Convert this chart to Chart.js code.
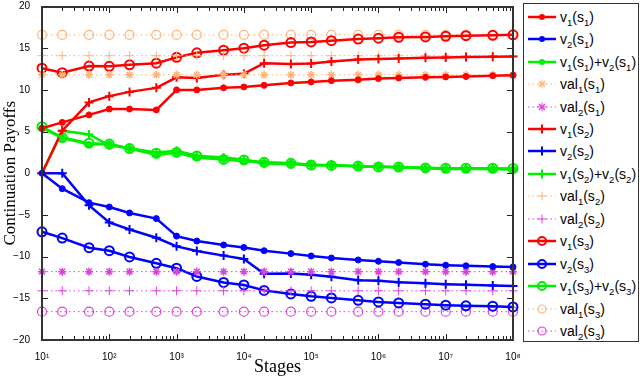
<!DOCTYPE html>
<html>
<head>
<meta charset="utf-8">
<script src="https://cdn.jsdelivr.net/npm/chart.js@4.4.1/dist/chart.umd.min.js"></script>
<style>
  body { margin: 0; background: #fff; }
  #wrap { position: relative; width: 640px; height: 378px; }
  #box { position: absolute; border: 2px solid #333; box-sizing: border-box; pointer-events: none; }
  .tk { position: absolute; background: #222; pointer-events: none; }
  #legend {
    position: absolute; left: 523px; top: 3px; width: 116px; height: 339px;
    border: 1px solid #333; background: #fff; box-sizing: border-box;
    font-family: "Liberation Sans", Arial, sans-serif; font-size: 14px; color: #000;
  }
  .item { position: absolute; left: 0; height: 20px; display: flex; align-items: center; white-space: nowrap; }
  .item svg { margin-left: 4px; margin-right: 3px; }
  .item sub { font-size: 9.5px; vertical-align: -4px; line-height: 0; }
</style>
</head>
<body>
<div id="wrap">
  <canvas id="mycanvas" width="640" height="378"></canvas>
  <div id="box"></div>
  <div id="legend"></div>
</div>
<script>
var stages = [10, 20, 50, 100, 200, 500, 1000, 2000, 5000, 1e4, 2e4, 5e4, 1e5, 2e5, 5e5, 1e6, 2e6, 5e6, 1e7, 2e7, 5e7, 1e8];

var v1s1 = [5.4, 6.1, 7.0, 7.7, 7.7, 7.6, 10.0, 10.0, 10.25, 10.35, 10.55, 10.83, 10.95, 11.1, 11.2, 11.35, 11.43, 11.5, 11.55, 11.6, 11.7, 11.75];
var v2s1 = [0, -1.85, -3.53, -4.05, -4.76, -5.44, -7.54, -8.13, -8.6, -8.9, -9.29, -9.64, -9.92, -10.16, -10.4, -10.56, -10.71, -10.91, -11.03, -11.1, -11.19, -11.23];
var sum1 = [5.4, 4.25, 3.45, 3.5, 2.95, 2.2, 2.45, 1.85, 1.65, 1.45, 1.3, 1.2, 1.03, 0.94, 0.82, 0.78, 0.72, 0.6, 0.52, 0.5, 0.5, 0.48];
var val1s1 = [11.8, 11.8, 11.8, 11.8, 11.8, 11.8, 11.8, 11.8, 11.8, 11.8, 11.8, 11.8, 11.8, 11.8, 11.8, 11.8, 11.8, 11.8, 11.8, 11.8, 11.8, 11.8];
var val2s1 = [-11.8, -11.8, -11.8, -11.8, -11.8, -11.8, -11.8, -11.8, -11.8, -11.8, -11.8, -11.8, -11.8, -11.8, -11.8, -11.8, -11.8, -11.8, -11.8, -11.8, -11.8, -11.8];

var v1s2 = [0, 5.1, 8.5, 9.25, 9.76, 10.24, 11.5, 11.43, 11.8, 11.94, 13.2, 13.1, 13.17, 13.4, 13.65, 13.7, 13.77, 13.85, 13.87, 13.93, 13.97, 14.0];
var v2s2 = [0, 0, -3.85, -5.9, -6.75, -7.74, -8.77, -9.33, -9.88, -10.28, -12.06, -12.02, -12.18, -12.42, -12.82, -12.9, -13.06, -13.2, -13.3, -13.37, -13.45, -13.53];
var sum2 = [0, 5.1, 4.65, 3.35, 3.0, 2.5, 2.7, 2.1, 1.9, 1.66, 1.14, 1.08, 0.99, 0.98, 0.83, 0.8, 0.71, 0.65, 0.57, 0.56, 0.52, 0.47];
var val1s2 = [14.1, 14.1, 14.1, 14.1, 14.1, 14.1, 14.1, 14.1, 14.1, 14.1, 14.1, 14.1, 14.1, 14.1, 14.1, 14.1, 14.1, 14.1, 14.1, 14.1, 14.1, 14.1];
var val2s2 = [-14.1, -14.1, -14.1, -14.1, -14.1, -14.1, -14.1, -14.1, -14.1, -14.1, -14.1, -14.1, -14.1, -14.1, -14.1, -14.1, -14.1, -14.1, -14.1, -14.1, -14.1, -14.1];

var v1s3 = [12.6, 12.06, 12.86, 12.82, 13.0, 13.2, 13.9, 14.45, 14.76, 15.0, 15.36, 15.67, 15.75, 15.9, 16.1, 16.2, 16.3, 16.35, 16.43, 16.5, 16.55, 16.6];
var v2s3 = [-7.02, -7.78, -8.93, -9.29, -10.04, -10.8, -11.39, -12.38, -13.1, -13.4, -14.05, -14.48, -14.76, -14.96, -15.24, -15.44, -15.56, -15.71, -15.83, -15.9, -15.95, -16.03];
var sum3 = [5.58, 4.28, 3.6, 3.5, 2.96, 2.4, 2.5, 2.07, 1.66, 1.6, 1.31, 1.19, 0.99, 0.94, 0.86, 0.76, 0.74, 0.64, 0.6, 0.6, 0.6, 0.57];
var val1s3 = [16.6, 16.6, 16.6, 16.6, 16.6, 16.6, 16.6, 16.6, 16.6, 16.6, 16.6, 16.6, 16.6, 16.6, 16.6, 16.6, 16.6, 16.6, 16.6, 16.6, 16.6, 16.6];
var val2s3 = [-16.6, -16.6, -16.6, -16.6, -16.6, -16.6, -16.6, -16.6, -16.6, -16.6, -16.6, -16.6, -16.6, -16.6, -16.6, -16.6, -16.6, -16.6, -16.6, -16.6, -16.6, -16.6];

var xTicks = [1e1, 1e2, 1e3, 1e4, 1e5, 1e6, 1e7, 1e8];
var xTickLabels = ['10\u00b9', '10\u00b2', '10\u00b3', '10\u2074', '10\u2075', '10\u2076', '10\u2077', '10\u2078'];
var yTicks = [-20, -15, -10, -5, 0, 5, 10, 15, 20];

var RED = '#ff0000', BLUE = '#0000ff', GREEN = '#00ee00';
var ORANGE = '#ffb57a', MAGENTA = '#e040e0';

function pts(arr) {
	return arr.map(function(v, i) { return { x: stages[i], y: v }; });
}

// kind: dot | plus | circle | star ; dotted = val lines
function series(label, data, color, kind, dotted) {
	var ds = {
		label: label,
		data: pts(data),
		borderColor: color,
		backgroundColor: color,
		pointBorderColor: color,
		borderWidth: dotted ? 1 : 2.5,
		borderDash: dotted ? [1.5, 3] : [],
		tension: 0,
		clip: 10,
		pointHoverRadius: 0
	};
	if (kind == 'dot') { ds.pointStyle = 'circle'; ds.pointRadius = 3; ds.pointBackgroundColor = color; ds.pointBorderWidth = 1; }
	if (kind == 'plus') { ds.pointStyle = 'cross'; ds.pointRadius = 4.5; ds.pointBorderWidth = dotted ? 1 : 2; }
	if (kind == 'circle') { ds.pointStyle = 'circle'; ds.pointRadius = 4.5; ds.pointBackgroundColor = 'rgba(0,0,0,0)'; ds.pointBorderWidth = dotted ? 1.2 : 2; }
	if (kind == 'star') { ds.pointStyle = 'star'; ds.pointRadius = 4; ds.pointBorderWidth = 1.5; }
	return ds;
}

var datasets = [
	series('v1(s1)', v1s1, RED, 'dot'),
	series('v2(s1)', v2s1, BLUE, 'dot'),
	series('v1(s1)+v2(s1)', sum1, GREEN, 'dot'),
	series('val1(s1)', val1s1, ORANGE, 'star', true),
	series('val2(s1)', val2s1, MAGENTA, 'star', true),
	series('v1(s2)', v1s2, RED, 'plus'),
	series('v2(s2)', v2s2, BLUE, 'plus'),
	series('v1(s2)+v2(s2)', sum2, GREEN, 'plus'),
	series('val1(s2)', val1s2, ORANGE, 'plus', true),
	series('val2(s2)', val2s2, MAGENTA, 'plus', true),
	series('v1(s3)', v1s3, RED, 'circle'),
	series('v2(s3)', v2s3, BLUE, 'circle'),
	series('v1(s3)+v2(s3)', sum3, GREEN, 'circle'),
	series('val1(s3)', val1s3, ORANGE, 'circle', true),
	series('val2(s3)', val2s3, MAGENTA, 'circle', true)
];

var ctx = document.getElementById('mycanvas');
var chart = new Chart(ctx, {
	type: 'line',
	data: { datasets: datasets },
	options: {
		responsive: false,
		animation: false,
		events: [],
		layout: { padding: { top: 4, right: 127, left: 0, bottom: 0 } },
		plugins: { legend: { display: false }, tooltip: { enabled: false } },
		scales: {
			x: {
				type: 'logarithmic',
				min: 10,
				max: 1e8,
				grid: { display: false },
				border: { display: false },
				afterBuildTicks: function(scale) {
					scale.ticks = xTicks.map(function(v) { return { value: v }; });
				},
				ticks: {
					autoSkip: false,
					maxRotation: 0,
					padding: 3,
					color: '#000',
					font: { family: 'Liberation Sans', size: 10 },
					callback: function(value) {
						var i = xTicks.indexOf(value);
						return i >= 0 ? xTickLabels[i] : '';
					}
				},
				title: {
					display: true,
					text: 'Stages',
					color: '#000',
					padding: { top: 0, bottom: 0 },
					font: { family: 'Liberation Serif', size: 18 }
				},
				afterFit: function(scale) {
					scale.height = 38;
					scale.paddingLeft = 0; scale.paddingRight = 0;
				}
			},
			y: {
				min: -20,
				max: 20,
				grid: { display: false },
				border: { display: false },
				ticks: {
					stepSize: 5,
					padding: 4,
					color: '#000',
					font: { family: 'Liberation Sans', size: 10 },
					callback: function(value) {
						return value < 0 ? '\u2212' + Math.abs(value) : '' + value;
					}
				},
				title: {
					display: true,
					text: 'Continuation Payoffs',
					color: '#000',
					padding: { top: 0, bottom: 0 },
					font: { family: 'Liberation Serif', size: 17 }
				},
				afterFit: function(scale) {
					scale.width = 42;
					scale.paddingTop = 0; scale.paddingBottom = 0;
				}
			}
		}
	}
});

// matlab-ish box with inward ticks, as html on top of the canvas,
// placed from the chart's own area and scales
function tick(x, y, w, h) {
	var d = document.createElement('div');
	d.className = 'tk';
	d.style.left = x + 'px'; d.style.top = y + 'px';
	d.style.width = w + 'px'; d.style.height = h + 'px';
	document.getElementById('wrap').appendChild(d);
}

function buildFrame() {
	var a = chart.chartArea;
	var xs = chart.scales.x, ys = chart.scales.y;
	var box = document.getElementById('box');
	box.style.left = (a.left - 1) + 'px';
	box.style.top = (a.top - 1) + 'px';
	box.style.width = (a.right - a.left + 2) + 'px';
	box.style.height = (a.bottom - a.top + 2) + 'px';
	for (var d = 1; d < 8; d++) {
		for (var m = 2; m <= 9; m++) {
			var px = Math.round(xs.getPixelForValue(m * Math.pow(10, d)));
			tick(px, a.bottom - 4, 1, 3);
			tick(px, a.top + 1, 1, 3);
		}
	}
	for (var j = 1; j < xTicks.length - 1; j++) {
		var qx = Math.round(xs.getPixelForValue(xTicks[j]));
		tick(qx, a.bottom - 6, 1, 5);
		tick(qx, a.top + 1, 1, 5);
	}
	for (var k = 1; k < yTicks.length - 1; k++) {
		var py = Math.round(ys.getPixelForValue(yTicks[k]));
		tick(a.left + 1, py, 5, 1);
		tick(a.right - 6, py, 5, 1);
	}
}
buildFrame();

// legend with line + marker samples
var legendItems = [
	['v<sub>1</sub>(s<sub>1</sub>)', RED, 'dot', false],
	['v<sub>2</sub>(s<sub>1</sub>)', BLUE, 'dot', false],
	['v<sub>1</sub>(s<sub>1</sub>)+v<sub>2</sub>(s<sub>1</sub>)', GREEN, 'dot', false],
	['val<sub>1</sub>(s<sub>1</sub>)', ORANGE, 'star', true],
	['val<sub>2</sub>(s<sub>1</sub>)', MAGENTA, 'star', true],
	['v<sub>1</sub>(s<sub>2</sub>)', RED, 'plus', false],
	['v<sub>2</sub>(s<sub>2</sub>)', BLUE, 'plus', false],
	['v<sub>1</sub>(s<sub>2</sub>)+v<sub>2</sub>(s<sub>2</sub>)', GREEN, 'plus', false],
	['val<sub>1</sub>(s<sub>2</sub>)', ORANGE, 'plus', true],
	['val<sub>2</sub>(s<sub>2</sub>)', MAGENTA, 'plus', true],
	['v<sub>1</sub>(s<sub>3</sub>)', RED, 'circle', false],
	['v<sub>2</sub>(s<sub>3</sub>)', BLUE, 'circle', false],
	['v<sub>1</sub>(s<sub>3</sub>)+v<sub>2</sub>(s<sub>3</sub>)', GREEN, 'circle', false],
	['val<sub>1</sub>(s<sub>3</sub>)', ORANGE, 'circle', true],
	['val<sub>2</sub>(s<sub>3</sub>)', MAGENTA, 'circle', true]
];

function sample(color, kind, dotted) {
	var s = '<svg width="29" height="14">';
	s += '<line x1="0" y1="7" x2="28" y2="7" stroke="' + color + '" stroke-width="' + (dotted ? 1 : 2.5) + '"' + (dotted ? ' stroke-dasharray="1.5,3"' : '') + '/>';
	var w = dotted ? 1 : 2;
	if (kind == 'dot') s += '<circle cx="14" cy="7" r="3" fill="' + color + '"/>';
	if (kind == 'circle') s += '<circle cx="14" cy="7" r="4" fill="none" stroke="' + color + '" stroke-width="' + (dotted ? 1.2 : 2) + '"/>';
	if (kind == 'plus' || kind == 'star') {
		s += '<line x1="9.5" y1="7" x2="18.5" y2="7" stroke="' + color + '" stroke-width="' + w + '"/>';
		s += '<line x1="14" y1="2.5" x2="14" y2="11.5" stroke="' + color + '" stroke-width="' + w + '"/>';
	}
	if (kind == 'star') {
		s += '<line x1="11" y1="4" x2="17" y2="10" stroke="' + color + '" stroke-width="1.5"/>';
		s += '<line x1="17" y1="4" x2="11" y2="10" stroke="' + color + '" stroke-width="1.5"/>';
	}
	return s + '</svg>';
}

var legend = document.getElementById('legend');
legendItems.forEach(function(it, i) {
	var div = document.createElement('div');
	div.className = 'item';
	div.style.top = (2.7 + 22.45 * i) + 'px';
	div.innerHTML = sample(it[1], it[2], it[3]) + '<span>' + it[0] + '</span>';
	legend.appendChild(div);
});
</script>
</body>
</html>
